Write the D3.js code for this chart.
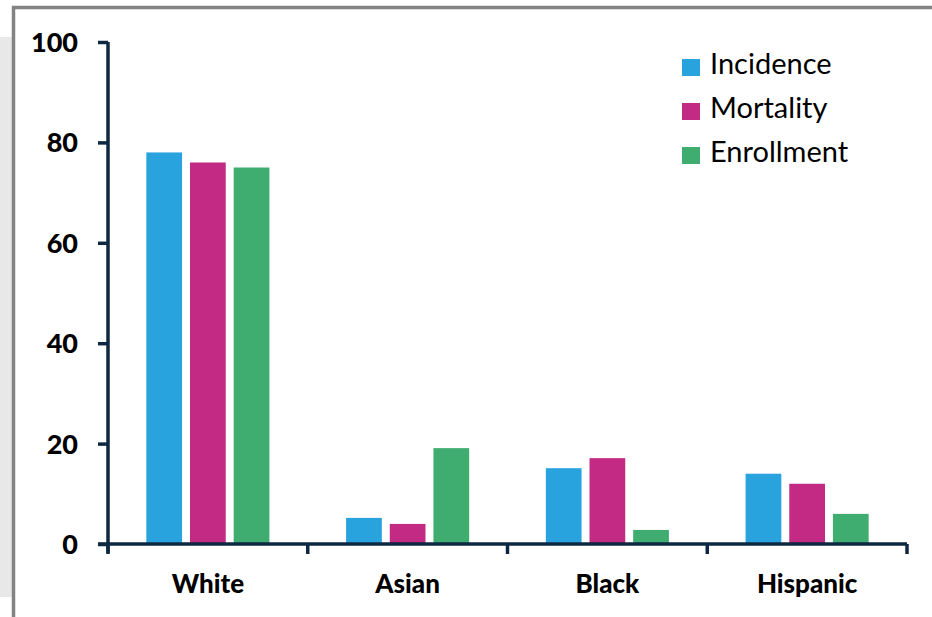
<!DOCTYPE html>
<html><head><meta charset="utf-8">
<script src="https://cdn.jsdelivr.net/npm/d3@7"></script>
<style>body{margin:0;background:#fff}svg{display:block}</style>
</head><body>
<svg id="c" width="932" height="617"></svg>
<script>
const categories = ["White", "Asian", "Black", "Hispanic"];
const seriesNames = ["Incidence", "Mortality", "Enrollment"];
const incidence = [78, 5.2, 15.1, 14];
const mortality = [76, 4, 17.1, 12];
const enrollment = [75, 19.1, 2.8, 6];
const yTicks = [0, 20, 40, 60, 80, 100];
const colors = ["#29A3DD", "#C22A84", "#3FAD70"];

const seriesValues = [incidence, mortality, enrollment];
const svg = d3.select("#c");
const axisColor = "#0E2841";
const font = "Lato, 'Open Sans', sans-serif";

// background decorations
svg.append("rect").attr("x",0).attr("y",37).attr("width",12).attr("height",560).attr("fill","#e8e8e8");
svg.append("path").attr("d","M13.5,617 L13.5,7.5 L932,7.5").attr("fill","none").attr("stroke","#838383").attr("stroke-width",3.5);

const x0 = d3.scaleBand().domain(categories).range([108, 907]).paddingInner(0).paddingOuter(0);
const x1 = d3.scaleBand().domain(seriesNames).range([0, x0.bandwidth()]).paddingInner(8/44).paddingOuter(0.878);
const y = d3.scaleLinear().domain([0, 100]).range([544, 42]);

// bars
const g = svg.append("g");
categories.forEach((c, ci) => {
  seriesNames.forEach((s, si) => {
    const v = seriesValues[si][ci];
    g.append("rect")
      .attr("x", x0(c) + x1(s))
      .attr("y", y(v))
      .attr("width", x1.bandwidth())
      .attr("height", y(0) - y(v))
      .attr("fill", colors[si]);
  });
});

// y axis
const yAxis = svg.append("g").attr("transform","translate(108,0)")
  .call(d3.axisLeft(y).tickValues(yTicks).tickSize(10).tickPadding(20).tickSizeOuter(0));
yAxis.select(".domain").attr("stroke", axisColor).attr("stroke-width", 3.5).attr("d", "M0,42 L0,553");
yAxis.selectAll(".tick line").attr("stroke", axisColor).attr("stroke-width", 3.5);
yAxis.selectAll(".tick text").attr("fill","#000").attr("font-family",font).attr("font-weight","900").attr("font-size","27px").attr("dy","0.35em");

// x axis
const xAxis = svg.append("g").attr("transform","translate(0,544)")
  .call(d3.axisBottom(x0).tickSize(0).tickPadding(31).tickSizeOuter(0));
xAxis.select(".domain").attr("stroke", axisColor).attr("stroke-width", 3.5).attr("d","M98,0 L907,0");
xAxis.selectAll(".tick text").attr("fill","#000").attr("font-family",font).attr("font-weight","900").attr("font-size","26px");
// boundary ticks
const bounds = categories.map(c => x0(c)).concat([x0.range()[1]]);
xAxis.selectAll(".bt").data(bounds).enter().append("line")
  .attr("x1", d => d).attr("x2", d => d).attr("y1", 0).attr("y2", 10)
  .attr("stroke", axisColor).attr("stroke-width", 3.5);

// legend
const leg = svg.append("g");
seriesNames.forEach((s, i) => {
  const top = 59 + i * 44;
  leg.append("rect").attr("x", 682).attr("y", top).attr("width", 18).attr("height", 17).attr("fill", colors[i]);
  leg.append("text").attr("x", 710).attr("y", top + 15)
    .attr("font-family", font).attr("font-size","29px").attr("fill","#000").text(s);
});
</script>
</body></html>
